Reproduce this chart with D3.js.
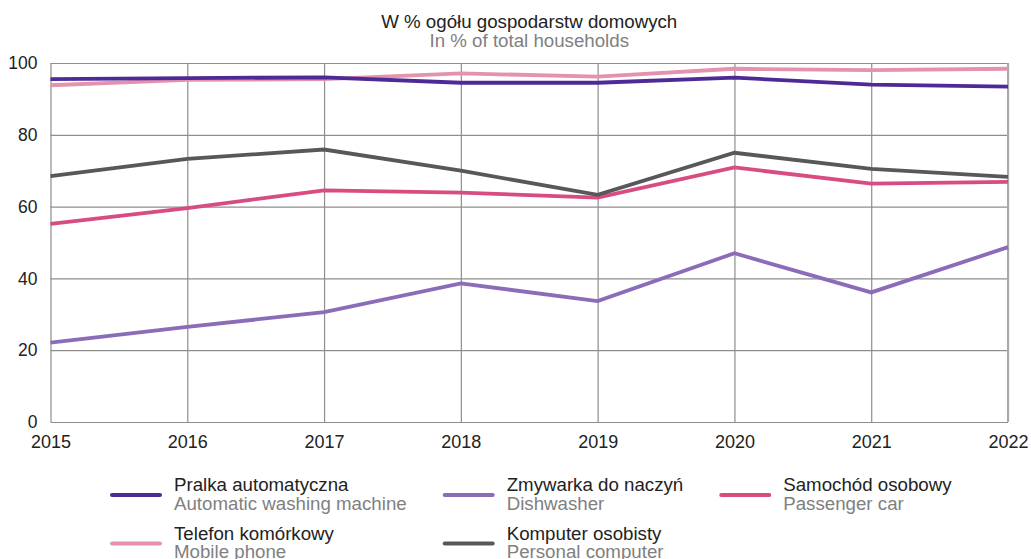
<!DOCTYPE html>
<html>
<head>
<meta charset="utf-8">
<script src="https://cdn.jsdelivr.net/npm/d3@7"></script>
<style>
  body { margin: 0; background: #fff; }
  svg { display: block; font-family: "Liberation Sans", Arial, sans-serif; }
</style>
</head>
<body>
<script>
// Dati
const years = [2015, 2016, 2017, 2018, 2019, 2020, 2021, 2022];
const pralka   = [95.5, 95.8, 96.0, 94.5, 94.5, 95.9, 94.0, 93.4];
const telefon  = [93.8, 95.3, 95.5, 97.1, 96.2, 98.4, 98.0, 98.4];
const komputer = [68.5, 73.3, 75.9, 70.0, 63.3, 75.0, 70.5, 68.3];
const samochod = [55.2, 59.6, 64.5, 63.9, 62.5, 70.9, 66.4, 66.9];
const zmywarka = [22.1, 26.5, 30.6, 38.6, 33.7, 47.0, 36.1, 48.7];
const yTicks = [0, 20, 40, 60, 80, 100];

const titlePl = "W % ogółu gospodarstw domowych";
const titleEn = "In % of total households";

// serie nell'ordine della legenda (riga per riga)
const series = [
  { pl: "Pralka automatyczna", en: "Automatic washing machine", values: pralka, color: "#4e2a97" },
  { pl: "Zmywarka do naczyń", en: "Dishwasher", values: zmywarka, color: "#8a6cb9" },
  { pl: "Samochód osobowy", en: "Passenger car", values: samochod, color: "#d84c82" },
  { pl: "Telefon komórkowy", en: "Mobile phone", values: telefon, color: "#e492ae" },
  { pl: "Komputer osobisty", en: "Personal computer", values: komputer, color: "#58585a" }
];

const width = 1031;
const height = 559;
const marginLeft = 50.5;
const marginRight = 23;
const marginTop = 63;
const plotBottom = 422;
const fontSize = "18.7px";

const svg = d3.create("svg")
  .attr("width", width)
  .attr("height", height);

const x = d3.scaleLinear()
  .domain(d3.extent(years))
  .range([marginLeft, width - marginRight]);

const y = d3.scaleLinear()
  .domain([0, 100])
  .range([plotBottom, marginTop]);

// griglia orizzontale
svg.append("g")
  .attr("transform", "translate(" + marginLeft + ",0)")
  .call(d3.axisLeft(y).tickValues(yTicks).tickSize(-(width - marginRight - marginLeft)).tickFormat(""))
  .call(g => g.select(".domain").remove())
  .call(g => g.selectAll("line").attr("stroke", "#8e8e8e").attr("stroke-width", 1.2));

// griglia verticale
svg.append("g")
  .attr("transform", "translate(0," + plotBottom + ")")
  .call(d3.axisBottom(x).tickValues(years).tickSize(-(plotBottom - marginTop)).tickFormat(""))
  .call(g => g.select(".domain").remove())
  .call(g => g.selectAll("line").attr("stroke", "#8e8e8e").attr("stroke-width", 1.2));

// bordo destro un po' più chiaro
svg.append("line")
  .attr("x1", x(2022)).attr("x2", x(2022))
  .attr("y1", y(100)).attr("y2", y(0))
  .attr("stroke", "#a8a8a8").attr("stroke-width", 2);

// etichette asse y
svg.append("g")
  .attr("transform", "translate(" + marginLeft + ",0)")
  .call(d3.axisLeft(y).tickValues(yTicks).tickSize(0).tickPadding(13))
  .call(g => g.select(".domain").remove())
  .call(g => g.selectAll("text").attr("fill", "#222").style("font-size", "17.5px").style("font-family", "Liberation Sans"));

// etichette asse x
svg.append("g")
  .attr("transform", "translate(0," + plotBottom + ")")
  .call(d3.axisBottom(x).tickValues(years).tickSize(0).tickPadding(13).tickFormat(d3.format("d")))
  .call(g => g.select(".domain").remove())
  .call(g => g.selectAll("text").attr("fill", "#222").style("font-size", "18px").style("font-family", "Liberation Sans"));

// titolo
const cx = (x(2015) + x(2022)) / 2;
svg.append("text")
  .attr("x", cx).attr("y", 28)
  .attr("text-anchor", "middle")
  .attr("fill", "#222")
  .style("font-size", fontSize)
  .text(titlePl);
svg.append("text")
  .attr("x", cx).attr("y", 47)
  .attr("text-anchor", "middle")
  .attr("fill", "#808080")
  .style("font-size", fontSize)
  .text(titleEn);

// linee
const line = d3.line()
  .x((d, i) => x(years[i]))
  .y(d => y(d));

const drawOrder = [1, 2, 4, 3, 0];
drawOrder.forEach(i => {
  svg.append("path")
    .datum(series[i].values)
    .attr("fill", "none")
    .attr("stroke", series[i].color)
    .attr("stroke-width", 3.8)
    .attr("stroke-linejoin", "miter")
    .attr("d", line);
});

// legenda: griglia a 3 colonne, larghezza colonna in base al testo
const legendX = 110;
const rowsY = [495, 543.5];
const swatchW = 52;
const textGap = 12;
const colGap = 36;
const nCols = 3;

const legend = svg.append("g");
const items = legend.selectAll("g")
  .data(series)
  .join("g");

items.append("text")
  .attr("x", swatchW + textGap)
  .attr("y", -4)
  .attr("fill", "#222")
  .style("font-size", fontSize)
  .text(d => d.pl);

items.append("text")
  .attr("x", swatchW + textGap)
  .attr("y", 14.5)
  .attr("fill", "#808080")
  .style("font-size", fontSize)
  .text(d => d.en);

items.append("line")
  .attr("x1", 2).attr("x2", swatchW - 2)
  .attr("y1", 0).attr("y2", 0)
  .attr("stroke", d => d.color)
  .attr("stroke-width", 4)
  .attr("stroke-linecap", "round");

document.body.appendChild(svg.node());

// misura i testi per le colonne
const colW = d3.range(nCols).map(() => 0);
items.each(function(d, i) {
  const w = d3.max(d3.select(this).selectAll("text").nodes(), n => n.getComputedTextLength());
  const c = i % nCols;
  colW[c] = Math.max(colW[c], swatchW + textGap + w + colGap);
});
const colX = [legendX];
for (let c = 1; c < nCols; c++) colX.push(colX[c - 1] + colW[c - 1]);

items.attr("transform", (d, i) => "translate(" + colX[i % nCols] + "," + rowsY[Math.floor(i / nCols)] + ")");
</script>
</body>
</html>
